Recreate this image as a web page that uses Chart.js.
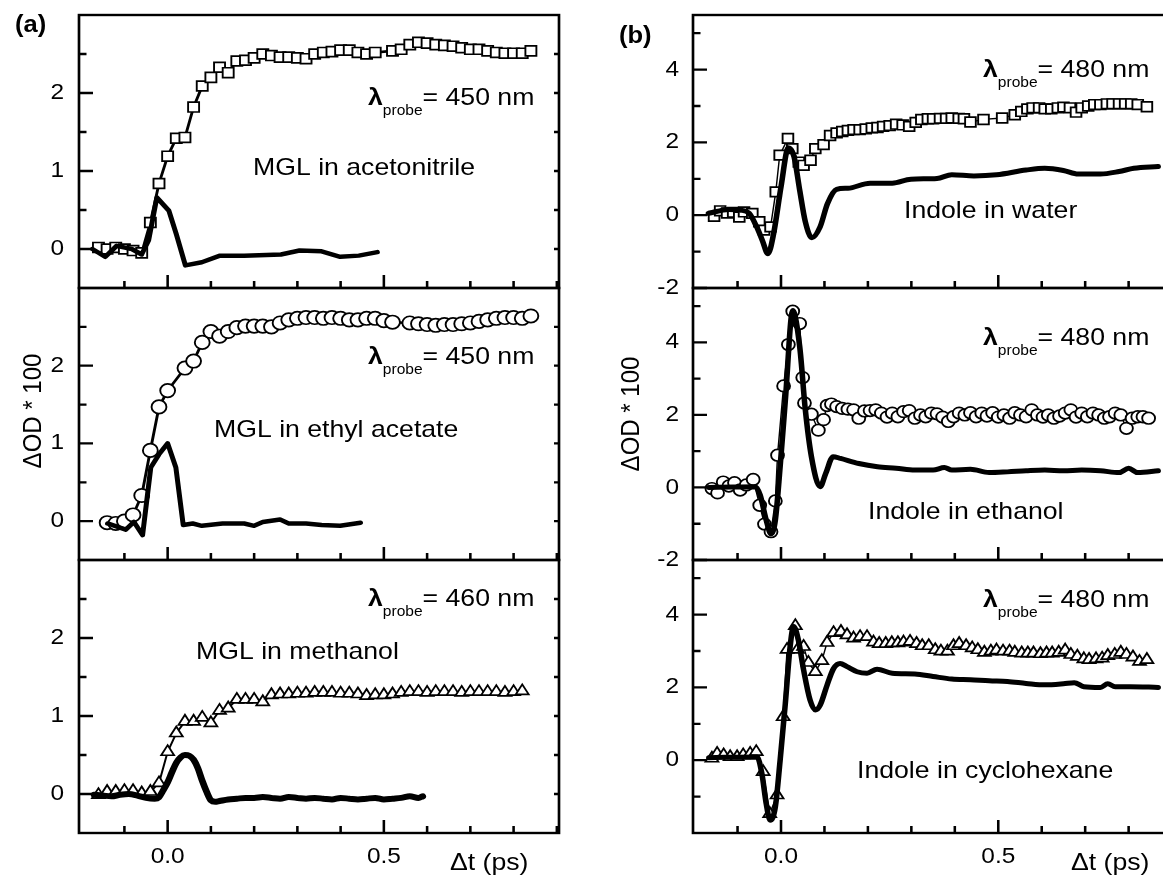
<!DOCTYPE html>
<html>
<head>
<meta charset="utf-8">
<title>Transient absorption: MGL and indole</title>
<script src="https://cdn.jsdelivr.net/npm/chart.js@4.4.1/dist/chart.umd.min.js"></script>
<style>
  html, body { margin: 0; padding: 0; background: #fff; overflow: hidden; }
  #figure { position: relative; width: 1163px; height: 876px; overflow: hidden; background: #fff; }
  #figure canvas { position: absolute; }
</style>
</head>
<body>
<div id="figure">
  <canvas id="acetonitrile"></canvas>
  <canvas id="ethylAcetate"></canvas>
  <canvas id="methanol"></canvas>
  <canvas id="water"></canvas>
  <canvas id="ethanol"></canvas>
  <canvas id="cyclohexane"></canvas>
</div>
<script>
// Delay times (ps) and dOD*100 for each panel

// (a) MGL in acetonitrile, 450 nm
const acnT = [-0.16,-0.14,-0.12,-0.10,-0.08,-0.06,-0.04,-0.02,0.00,0.02,0.04,0.06,0.08,0.10,0.12,0.14,0.16,0.18,0.20,0.22,0.24,0.26,0.28,0.30,0.32,0.34,0.36,0.38,0.40,0.42,0.44,0.46,0.48,0.52,0.54,0.56,0.58,0.60,0.62,0.64,0.66,0.68,0.70,0.72,0.74,0.76,0.78,0.80,0.82,0.84];
const acnOD = [0.02,0.00,0.02,0.00,-0.02,-0.05,0.34,0.84,1.19,1.42,1.43,1.82,2.09,2.20,2.33,2.26,2.41,2.42,2.45,2.50,2.48,2.46,2.46,2.45,2.44,2.50,2.52,2.53,2.55,2.55,2.52,2.50,2.52,2.54,2.56,2.62,2.65,2.64,2.62,2.61,2.60,2.58,2.56,2.56,2.54,2.52,2.51,2.51,2.51,2.54];
const acnSolventT = [-0.174,-0.144,-0.118,-0.083,-0.060,-0.044,-0.025,0.003,0.020,0.041,0.079,0.121,0.177,0.262,0.305,0.356,0.399,0.442,0.485];
const acnSolventOD = [0.00,-0.10,0.04,0.00,-0.07,0.11,0.66,0.49,0.19,-0.21,-0.17,-0.085,-0.085,-0.07,-0.02,-0.03,-0.10,-0.085,-0.04];

// (a) MGL in ethyl acetate, 450 nm
const eaT = [-0.14,-0.12,-0.10,-0.08,-0.06,-0.04,-0.02,0.00,0.04,0.06,0.08,0.10,0.12,0.14,0.16,0.18,0.20,0.22,0.24,0.26,0.28,0.30,0.32,0.34,0.36,0.38,0.40,0.42,0.44,0.46,0.48,0.50,0.52,0.56,0.58,0.60,0.62,0.64,0.66,0.68,0.70,0.72,0.74,0.76,0.78,0.80,0.82,0.84];
const eaOD = [-0.02,-0.03,0.00,0.08,0.33,0.91,1.47,1.68,1.97,2.06,2.30,2.44,2.38,2.44,2.49,2.51,2.51,2.51,2.50,2.55,2.59,2.61,2.62,2.62,2.61,2.62,2.61,2.59,2.59,2.61,2.61,2.58,2.56,2.55,2.54,2.53,2.52,2.53,2.53,2.54,2.55,2.57,2.59,2.61,2.62,2.62,2.61,2.64];
const eaSolventT = [-0.139,-0.097,-0.078,-0.058,-0.039,-0.020,0.000,0.019,0.036,0.058,0.079,0.127,0.177,0.200,0.220,0.260,0.280,0.320,0.356,0.399,0.446];
const eaSolventOD = [-0.03,-0.11,-0.01,-0.18,0.69,0.86,1.00,0.69,-0.05,-0.03,-0.06,-0.03,-0.03,-0.06,-0.01,0.02,-0.03,-0.03,-0.05,-0.06,-0.02];

// (a) MGL in methanol, 460 nm
const meT = [-0.16,-0.14,-0.12,-0.10,-0.08,-0.06,-0.04,-0.02,0.00,0.02,0.04,0.06,0.08,0.10,0.12,0.14,0.16,0.18,0.20,0.22,0.24,0.26,0.28,0.30,0.32,0.34,0.36,0.38,0.40,0.42,0.44,0.46,0.48,0.50,0.52,0.54,0.56,0.58,0.60,0.62,0.64,0.66,0.68,0.70,0.72,0.74,0.76,0.78,0.80,0.82];
const meOD = [-0.01,0.03,0.03,0.04,0.04,0.01,0.03,0.14,0.54,0.78,0.93,0.93,0.98,0.91,1.07,1.10,1.21,1.21,1.21,1.18,1.27,1.28,1.28,1.29,1.29,1.30,1.30,1.30,1.29,1.29,1.28,1.26,1.27,1.27,1.28,1.30,1.31,1.31,1.30,1.31,1.31,1.31,1.30,1.31,1.31,1.31,1.31,1.30,1.31,1.32];
const meSolventT = [-0.17,-0.15,-0.13,-0.11,-0.09,-0.07,-0.05,-0.03,-0.02,-0.01,0.00,0.01,0.02,0.03,0.04,0.05,0.06,0.07,0.08,0.09,0.10,0.11,0.12,0.14,0.16,0.18,0.20,0.22,0.24,0.26,0.28,0.30,0.32,0.34,0.36,0.38,0.40,0.42,0.44,0.46,0.48,0.50,0.52,0.54,0.56,0.58,0.59];
const meSolventOD = [-0.01,-0.02,-0.03,-0.01,0.00,-0.02,-0.05,-0.06,-0.04,0.05,0.15,0.28,0.40,0.47,0.50,0.49,0.44,0.33,0.17,0.03,-0.08,-0.10,-0.09,-0.07,-0.06,-0.05,-0.05,-0.04,-0.05,-0.06,-0.04,-0.05,-0.06,-0.05,-0.06,-0.07,-0.05,-0.06,-0.07,-0.06,-0.05,-0.07,-0.06,-0.05,-0.03,-0.05,-0.03];

// (b) Indole in water, 480 nm
const waT = [-0.154,-0.140,-0.124,-0.110,-0.096,-0.085,-0.066,-0.050,-0.039,-0.024,-0.012,-0.003,0.016,0.026,0.041,0.052,0.068,0.079,0.098,0.113,0.128,0.141,0.154,0.167,0.181,0.195,0.209,0.222,0.235,0.250,0.265,0.280,0.295,0.310,0.323,0.338,0.350,0.366,0.380,0.393,0.409,0.421,0.436,0.466,0.509,0.538,0.553,0.567,0.579,0.594,0.607,0.622,0.637,0.650,0.665,0.679,0.692,0.707,0.721,0.735,0.750,0.763,0.778,0.792,0.806,0.821,0.842];
const waOD = [-0.03,0.12,0.06,0.08,-0.05,0.09,0.05,-0.18,-0.41,-0.32,0.64,1.65,2.11,1.83,1.46,1.37,1.51,1.83,1.94,2.19,2.26,2.30,2.33,2.35,2.35,2.37,2.40,2.41,2.44,2.46,2.50,2.48,2.44,2.55,2.63,2.65,2.65,2.66,2.66,2.67,2.66,2.65,2.56,2.63,2.67,2.76,2.85,2.92,2.95,2.95,2.92,2.92,2.95,2.97,2.95,2.83,2.95,3.00,3.04,3.04,3.06,3.06,3.06,3.06,3.06,3.04,2.98];
const waSolventT = [-0.167,-0.120,-0.094,-0.073,-0.056,-0.043,-0.030,-0.017,0.000,0.017,0.030,0.043,0.056,0.071,0.090,0.107,0.128,0.154,0.205,0.256,0.299,0.359,0.393,0.444,0.496,0.564,0.607,0.650,0.684,0.735,0.778,0.812,0.868];
const waSolventOD = [0.05,0.16,0.14,0.05,-0.32,-0.69,-1.06,-0.51,0.78,1.85,1.61,0.69,-0.18,-0.62,-0.32,0.32,0.71,0.74,0.88,0.88,0.99,1.01,1.11,1.08,1.11,1.24,1.29,1.23,1.13,1.13,1.20,1.29,1.34];

// (b) Indole in ethanol, 480 nm
const etT = [-0.159,-0.146,-0.133,-0.120,-0.107,-0.094,-0.080,-0.064,-0.049,-0.038,-0.023,-0.013,-0.008,0.006,0.017,0.027,0.043,0.050,0.054,0.070,0.086,0.098,0.106,0.116,0.128,0.141,0.154,0.167,0.179,0.192,0.205,0.218,0.231,0.244,0.256,0.269,0.282,0.295,0.308,0.321,0.333,0.346,0.359,0.372,0.385,0.397,0.410,0.423,0.436,0.449,0.462,0.474,0.487,0.500,0.513,0.526,0.538,0.551,0.564,0.577,0.590,0.603,0.615,0.628,0.641,0.654,0.667,0.679,0.692,0.705,0.718,0.731,0.744,0.756,0.769,0.782,0.795,0.808,0.821,0.833,0.846];
const etOD = [-0.03,-0.15,0.15,0.04,0.13,-0.07,0.07,0.22,-0.49,-1.01,-1.22,-0.37,0.89,2.80,3.94,4.86,4.52,3.03,2.33,2.02,1.58,1.87,2.26,2.30,2.23,2.18,2.16,2.14,1.91,2.11,2.12,2.14,2.05,1.94,2.05,1.95,2.09,2.12,1.91,2.00,1.95,2.05,2.03,1.94,1.82,1.95,2.05,2.00,2.06,1.95,2.05,1.97,2.06,1.94,2.00,1.91,2.06,2.00,1.95,2.14,2.00,1.94,2.00,1.91,1.97,2.05,2.14,1.94,2.05,1.95,2.05,2.00,1.91,1.95,2.05,2.00,1.63,1.91,1.95,1.95,1.91];
const etSolventT = [-0.166,-0.110,-0.059,-0.048,-0.034,-0.023,-0.013,-0.002,0.010,0.027,0.043,0.056,0.070,0.090,0.103,0.120,0.137,0.179,0.222,0.265,0.308,0.350,0.376,0.393,0.436,0.479,0.521,0.564,0.607,0.650,0.692,0.735,0.778,0.800,0.821,0.868];
const etSolventOD = [0.00,0.01,0.02,-0.21,-0.90,-1.28,-0.90,0.57,2.40,4.88,3.89,2.14,0.85,0.02,0.39,0.85,0.80,0.66,0.57,0.53,0.48,0.48,0.55,0.48,0.50,0.41,0.43,0.46,0.48,0.46,0.48,0.46,0.41,0.53,0.41,0.46];

// (b) Indole in cyclohexane, 480 nm
const chT = [-0.159,-0.147,-0.132,-0.117,-0.101,-0.087,-0.071,-0.057,-0.041,-0.026,-0.009,0.005,0.014,0.033,0.038,0.052,0.063,0.079,0.094,0.106,0.121,0.138,0.152,0.167,0.182,0.198,0.213,0.226,0.241,0.255,0.269,0.282,0.297,0.312,0.325,0.340,0.355,0.368,0.383,0.397,0.410,0.426,0.440,0.453,0.468,0.483,0.496,0.511,0.526,0.538,0.554,0.568,0.581,0.597,0.611,0.624,0.639,0.654,0.667,0.682,0.697,0.709,0.725,0.739,0.752,0.768,0.782,0.795,0.810,0.825,0.842];
const chOD = [0.05,0.18,0.14,0.09,0.09,0.14,0.18,0.23,-0.32,-1.47,-0.96,1.19,3.04,3.69,3.04,3.12,2.68,2.43,2.73,3.23,3.50,3.53,3.44,3.35,3.39,3.39,3.24,3.20,3.20,3.22,3.22,3.24,3.26,3.20,3.14,3.14,3.03,2.99,2.99,3.14,3.20,3.14,3.08,3.03,2.96,2.99,3.02,2.99,2.99,2.96,2.94,2.94,2.94,2.92,2.94,2.94,2.96,3.02,2.90,2.85,2.78,2.76,2.78,2.80,2.87,2.90,2.96,2.90,2.83,2.71,2.76];
const chSolventT = [-0.166,-0.055,-0.044,-0.034,-0.025,-0.013,-0.002,0.010,0.021,0.029,0.040,0.052,0.067,0.079,0.090,0.106,0.121,0.136,0.152,0.175,0.198,0.221,0.256,0.308,0.350,0.393,0.436,0.479,0.521,0.564,0.607,0.650,0.675,0.697,0.735,0.752,0.769,0.803,0.868];
const chSolventOD = [0.07,0.09,-0.37,-1.19,-1.65,-1.28,0.00,1.56,3.12,3.67,3.30,2.48,1.65,1.38,1.51,2.06,2.52,2.66,2.57,2.43,2.39,2.50,2.39,2.37,2.30,2.23,2.21,2.18,2.16,2.11,2.07,2.10,2.13,2.02,2.00,2.10,2.02,2.02,2.00];

// Tick values
const xLabels = [0, 0.5];
const xMinor = [-0.1, 0.1, 0.2, 0.3, 0.4, 0.6, 0.7, 0.8, 0.9];
const mglLabels = [0, 1, 2];
const mglMinor = [0.5, 1.5, 2.5];
const indoleLabels = [-2, 0, 2, 4];
const indoleLabelsLow = [0, 2, 4];
const indoleMinor = [-1, 1, 3, 5];

const FONT = "'Liberation Sans', Arial, Helvetica, sans-serif";
const TEXT_FONT = '24px ' + FONT;

// Everything is drawn a little wider than tall: each chart is laid out
// at width / SX and the context is stretched by SX when drawing.
const SX = 1.11;

// Page layout (page pixels) of the two columns and three rows
const columns = {
    a: { left: 0, width: 580, axisWidth: 79, areaRight: 559, xMin: -0.205, xMax: 0.905, labelPad: 15 },
    b: { left: 580, width: 620, axisWidth: 113, areaRight: 591, xMin: -0.2025, xMax: 0.8975, labelPad: 14 }
};
const rows = [
    { top: 0, height: 308, padTop: 15, padBottom: 20 },
    { top: 268, height: 312, padTop: 20, padBottom: 20 },
    { top: 540, height: 336, padTop: 20, padBottom: 0, xAxis: 43 }
];

const pts = (xs, ys) => xs.map((x, i) => ({ x: x, y: ys[i] }));

// Open markers joined by a line
function markerSeries(xs, ys, style, radius, lineWidth) {
    return {
        data: pts(xs, ys),
        showLine: true,
        borderColor: '#000',
        borderWidth: lineWidth,
        pointStyle: style,
        pointRadius: radius,
        pointBackgroundColor: '#fff',
        pointBorderColor: '#000',
        pointBorderWidth: 1.7,
        order: 2
    };
}

// Solid trace without markers
function traceSeries(xs, ys, width, smooth) {
    return {
        data: pts(xs, ys),
        showLine: true,
        borderColor: '#000',
        borderWidth: width,
        borderJoinStyle: 'round',
        borderCapStyle: 'round',
        pointRadius: 0,
        cubicInterpolationMode: smooth ? 'monotone' : 'default',
        tension: 0,
        order: 1
    };
}

// Horizontal stretch of the drawing context
const stretchX = {
    id: 'stretchX',
    beforeDraw(chart) {
        chart.ctx.setTransform(SX, 0, 0, 1, 0, 0);
    }
};

// Box frame with inward ticks
const axisFrame = {
    id: 'axisFrame',
    afterDatasetsDraw(chart, args, opts) {
        const { ctx, chartArea: a, scales: { x, y } } = chart;
        ctx.save();
        ctx.strokeStyle = '#000';
        ctx.lineWidth = 2.3;
        ctx.beginPath();
        opts.yMajor.forEach(v => {
            const py = y.getPixelForValue(v);
            ctx.moveTo(a.left, py); ctx.lineTo(a.left + 14 / SX, py);
        });
        opts.yMinor.forEach(v => {
            const py = y.getPixelForValue(v);
            ctx.moveTo(a.left, py); ctx.lineTo(a.left + 7.5 / SX, py);
        });
        opts.yMajor.concat(opts.yMinor).forEach(v => {
            const py = y.getPixelForValue(v);
            ctx.moveTo(a.right, py); ctx.lineTo(a.right - 5 / SX, py);
        });
        xLabels.forEach(v => {
            const px = x.getPixelForValue(v);
            ctx.moveTo(px, a.bottom); ctx.lineTo(px, a.bottom - 13);
        });
        xMinor.forEach(v => {
            const px = x.getPixelForValue(v);
            ctx.moveTo(px, a.bottom); ctx.lineTo(px, a.bottom - 7);
        });
        ctx.stroke();
        ctx.lineWidth = 2.4;
        ctx.strokeRect(a.left, a.top, a.right - a.left, a.bottom - a.top);
        ctx.restore();
    }
};

// Panel annotations: probe wavelength, sample name, figure labels
const panelText = {
    id: 'panelText',
    afterDraw(chart, args, opts) {
        const { ctx, chartArea: a } = chart;
        ctx.save();
        ctx.fillStyle = '#000';
        (opts.items || []).forEach(t => {
            const px = a.left + t.dx / SX;
            const py = (t.fromBottom ? a.bottom : a.top) + t.dy;
            if (t.rotate) {
                ctx.save();
                ctx.translate(px, py);
                ctx.rotate(-Math.PI / 2);
                ctx.font = TEXT_FONT;
                ctx.textAlign = 'center';
                ctx.textBaseline = 'middle';
                ctx.fillText(t.text, 0, 0);
                ctx.restore();
                return;
            }
            ctx.textAlign = 'left';
            ctx.textBaseline = 'alphabetic';
            if (t.probe) {
                ctx.font = 'bold ' + TEXT_FONT;
                ctx.fillText('λ', px, py);
                let cx = px + ctx.measureText('λ').width;
                ctx.font = '14px ' + FONT;
                ctx.fillText('probe', cx, py + 10);
                cx += ctx.measureText('probe').width;
                ctx.font = TEXT_FONT;
                ctx.fillText('= ' + t.probe + ' nm', cx, py);
            } else {
                ctx.font = t.font || TEXT_FONT;
                ctx.fillText(t.text, px, py);
            }
        });
        ctx.restore();
    }
};

function buildPanel(id, col, row, panel) {
    const c = columns[col];
    const r = rows[row];
    const last = row === rows.length - 1;
    const width = Math.round(c.width / SX);
    const canvas = document.getElementById(id);
    canvas.width = width;
    canvas.height = r.height;

    const tickFont = { family: FONT, size: 22 };

    const chart = new Chart(canvas, {
        type: 'scatter',
        data: { datasets: panel.datasets },
        options: {
            responsive: false,
            animation: false,
            events: [],
            devicePixelRatio: 1,
            layout: { padding: { top: r.padTop, bottom: r.padBottom, left: 0, right: width - c.areaRight / SX } },
            scales: {
                x: {
                    type: 'linear',
                    min: c.xMin,
                    max: c.xMax,
                    display: last,
                    grid: { display: false, drawTicks: false },
                    border: { display: false },
                    afterBuildTicks: axis => { axis.ticks = xLabels.map(v => ({ value: v })); },
                    afterFit: axis => {
                        if (last) axis.height = r.xAxis;
                        axis.paddingLeft = 0;
                        axis.paddingRight = 0;
                    },
                    ticks: {
                        padding: 11,
                        autoSkip: false,
                        maxRotation: 0,
                        color: '#000',
                        font: tickFont,
                        callback: v => v.toFixed(1)
                    }
                },
                y: {
                    type: 'linear',
                    min: panel.yMin,
                    max: panel.yMax,
                    grid: { display: false, drawTicks: false },
                    border: { display: false },
                    afterBuildTicks: axis => { axis.ticks = panel.yLabels.map(v => ({ value: v })); },
                    afterFit: axis => {
                        axis.width = c.axisWidth / SX;
                        axis.paddingTop = 0;
                        axis.paddingBottom = 0;
                    },
                    ticks: {
                        padding: c.labelPad / SX,
                        autoSkip: false,
                        color: '#000',
                        font: tickFont,
                        callback: v => String(v)
                    }
                }
            },
            plugins: {
                legend: { display: false },
                tooltip: { enabled: false },
                axisFrame: { yMajor: panel.yLabels, yMinor: panel.yMinor },
                panelText: { items: panel.texts }
            }
        },
        plugins: [stretchX, axisFrame, panelText]
    });

    // Widen the backing store to page pixels and redraw stretched
    canvas.width = c.width;
    canvas.height = r.height;
    canvas.style.width = c.width + 'px';
    canvas.style.height = r.height + 'px';
    canvas.style.left = c.left + 'px';
    canvas.style.top = r.top + 'px';
    chart.draw();
    return chart;
}

// Column (a): MGL
buildPanel('acetonitrile', 'a', 0, {
    yMin: -0.5, yMax: 3, yLabels: mglLabels, yMinor: mglMinor,
    datasets: [
        markerSeries(acnT, acnOD, 'rect', 7, 2.6),
        traceSeries(acnSolventT, acnSolventOD, 4.5, false)
    ],
    texts: [
        { text: '(a)', dx: -64, dy: 17, font: 'bold 23px ' + FONT },
        { probe: '450', dx: 289, dy: 90 },
        { text: 'MGL in acetonitrile', dx: 174, dy: 160 }
    ]
});

buildPanel('ethylAcetate', 'a', 1, {
    yMin: -0.5, yMax: 3, yLabels: mglLabels, yMinor: mglMinor,
    datasets: [
        markerSeries(eaT, eaOD, 'circle', 6.7, 2.6),
        traceSeries(eaSolventT, eaSolventOD, 4.5, false)
    ],
    texts: [
        { probe: '450', dx: 289, dy: 76 },
        { text: 'MGL in ethyl acetate', dx: 135, dy: 149 },
        { text: 'ΔOD * 100', rotate: true, dx: -45, dy: 123 }
    ]
});

buildPanel('methanol', 'a', 2, {
    yMin: -0.5, yMax: 3, yLabels: mglLabels, yMinor: mglMinor,
    datasets: [
        markerSeries(meT, meOD, 'triangle', 6.7, 1.8),
        traceSeries(meSolventT, meSolventOD, 6, true)
    ],
    texts: [
        { probe: '460', dx: 289, dy: 46 },
        { text: 'MGL in methanol', dx: 117, dy: 99 },
        { text: 'Δt (ps)', dx: 371, dy: 37, fromBottom: true }
    ]
});

// Column (b): indole
buildPanel('water', 'b', 0, {
    yMin: -2, yMax: 5.5, yLabels: indoleLabels, yMinor: indoleMinor,
    datasets: [
        markerSeries(waT, waOD, 'rect', 6.8, 1.3),
        traceSeries(waSolventT, waSolventOD, 5, true)
    ],
    texts: [
        { text: '(b)', dx: -74, dy: 28, font: 'bold 23px ' + FONT },
        { probe: '480', dx: 290, dy: 62 },
        { text: 'Indole in water', dx: 211, dy: 203 }
    ]
});

buildPanel('ethanol', 'b', 1, {
    yMin: -2, yMax: 5.5, yLabels: indoleLabels, yMinor: indoleMinor,
    datasets: [
        markerSeries(etT, etOD, 'circle', 5.8, 1.3),
        traceSeries(etSolventT, etSolventOD, 5, true)
    ],
    texts: [
        { probe: '480', dx: 290, dy: 57 },
        { text: 'Indole in ethanol', dx: 175, dy: 231 },
        { text: 'ΔOD * 100', rotate: true, dx: -61, dy: 126 }
    ]
});

buildPanel('cyclohexane', 'b', 2, {
    yMin: -2, yMax: 5.5, yLabels: indoleLabelsLow, yMinor: indoleMinor,
    datasets: [
        markerSeries(chT, chOD, 'triangle', 6.7, 1.3),
        traceSeries(chSolventT, chSolventOD, 5, true)
    ],
    texts: [
        { probe: '480', dx: 290, dy: 47 },
        { text: 'Indole in cyclohexane', dx: 164, dy: 218 },
        { text: 'Δt (ps)', dx: 378, dy: 37, fromBottom: true }
    ]
});
</script>
</body>
</html>
